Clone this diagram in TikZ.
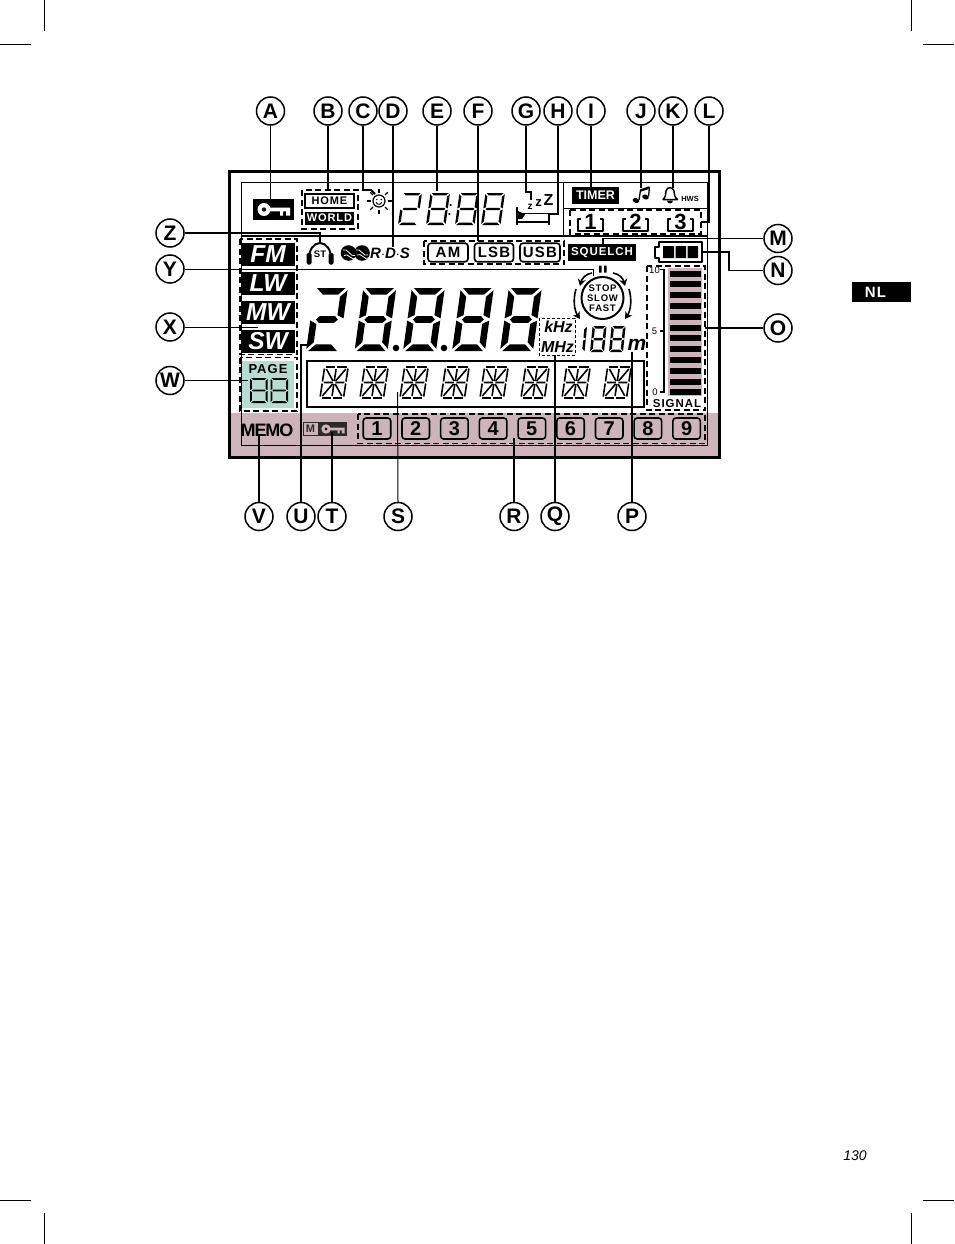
\documentclass[tikz,border=0pt]{standalone}
\usepackage{fontspec}
\usetikzlibrary{arrows.meta}
\setmainfont{Liberation Sans}
\newfontfamily\wide[LetterSpace=8]{Liberation Sans}
\newfontfamily\tight[LetterSpace=-6]{Liberation Sans}
\definecolor{lcdpink}{HTML}{CDB4BB}
\definecolor{lcdteal}{HTML}{B7DDD3}
\definecolor{lcddark}{HTML}{2B2B2B}
\tikzset{
 letter/.style={circle,draw,line width=1.5pt,minimum size=28pt,inner sep=0pt,fill=white,font=\fontsize{21}{21}\selectfont\bfseries},
 conn/.style={line width=1.8pt},
 thinconn/.style={line width=1pt},
 crop/.style={line width=.6pt},
 dbox/.style={draw,line width=1.5pt,dash pattern=on 6pt off 3.5pt},
 txt/.style={inner sep=0pt,font=\fontsize{#1}{#1}\selectfont\bfseries},
 wtxt/.style={inner sep=0pt,text=white,font=\fontsize{#1}{#1}\selectfont\bfseries},
 itxt/.style={inner sep=0pt,font=\fontsize{#1}{#1}\selectfont\bfseries\itshape},
 bandtxt/.style={inner sep=0pt,text=white,font=\fontsize{24.5}{24.5}\selectfont\bfseries\itshape},
 sptxt/.style={inner sep=0pt,font=\fontsize{#1}{#1}\selectfont\bfseries\wide},
 spwtxt/.style={inner sep=0pt,text=white,font=\fontsize{#1}{#1}\selectfont\bfseries\wide},
 roundbtn/.style={draw,line width=1.6pt,rounded corners=3pt,inner sep=0pt},
 bandbox/.style={fill=black,inner sep=0pt,minimum width=53pt,minimum height=23pt},
 dialarrow/.style={line width=1.6pt,-{Stealth[length=7pt,width=8pt]}}
}
% seven segment pieces, local y pointing up
\newcommand\segA{\fill (\dG,\dH)--(\dW-\dG,\dH)--(\dW-\dG-\dT,\dH-\dT)--(\dG+\dT,\dH-\dT)--cycle;}
\newcommand\segD{\fill (\dG,0)--(\dW-\dG,0)--(\dW-\dG-\dT,\dT)--(\dG+\dT,\dT)--cycle;}
\newcommand\segB{\fill (\dW,\dH-\dG)--(\dW,\dH/2+\dG/2)--(\dW-\dT,\dH/2+\dG/2+\dT/2)--(\dW-\dT,\dH-\dG-\dT)--cycle;}
\newcommand\segC{\fill (\dW,\dG)--(\dW,\dH/2-\dG/2)--(\dW-\dT,\dH/2-\dG/2-\dT/2)--(\dW-\dT,\dG+\dT)--cycle;}
\newcommand\segE{\fill (0,\dG)--(0,\dH/2-\dG/2)--(\dT,\dH/2-\dG/2-\dT/2)--(\dT,\dG+\dT)--cycle;}
\newcommand\segF{\fill (0,\dH-\dG)--(0,\dH/2+\dG/2)--(\dT,\dH/2+\dG/2+\dT/2)--(\dT,\dH-\dG-\dT)--cycle;}
\newcommand\segG{\fill (\dG+\dT/2,\dH/2)--(\dG+\dT,\dH/2+\dT/2)--(\dW-\dG-\dT,\dH/2+\dT/2)--(\dW-\dG-\dT/2,\dH/2)--(\dW-\dG-\dT,\dH/2-\dT/2)--(\dG+\dT,\dH/2-\dT/2)--cycle;}
\newcommand\eightsegs{\segA\segB\segC\segD\segE\segF\segG}
\newcommand\twosegs{\segA\segB\segG\segE\segD}
\newcommand\onesegs{\segB\segC}
% x, y(bottom), w, h, slant, thickness, gap, segments
\newcommand\sevenseg[8]{\begin{scope}[shift={(#1,#2)},x=1pt,y=1pt,cm={1,0,#5,1,(0,0)}]
 \def\dW{#3}\def\dH{#4}\def\dT{#6}\def\dG{#7}#8\end{scope}}
% alphanumeric digit
\newcommand\alphaseg[2]{\begin{scope}[shift={(#1,#2)},x=1pt,y=1pt,cm={1,0,.15,1,(0,0)},line width=1.6pt]
 \draw (1.5,31)--(10.8,31) (12.7,31)--(22,31) (1.5,0)--(10.8,0) (12.7,0)--(22,0);
 \draw (0,29.5)--(0,16.5) (0,14.5)--(0,1.5) (23.5,29.5)--(23.5,16.5) (23.5,14.5)--(23.5,1.5);
 \draw (1.5,15.5)--(10.5,15.5) (13,15.5)--(22,15.5) (11.75,29)--(11.75,17) (11.75,14)--(11.75,2);
 \draw (2,29)--(10.5,17) (21.5,29)--(13,17) (2,2)--(10.5,14) (21.5,2)--(13,14);
 \end{scope}}
\newcommand\keyglyph[4]{\begin{scope}[shift={(#1,#2)},scale=#3]
 \fill[#4] (0,0) circle (6.5);
 \fill[black!90] (0,0) circle (2.2);
 \fill[#4] (5,-1.8) rectangle (26,1.8) (16,1.8) rectangle (19,6) (22,1.8) rectangle (26,6);
 \end{scope}}
\newcommand\keybracket[1]{\draw[line width=2pt,line join=round] (#1+3,218.5)--(#1,218.5)--(#1,231)--(#1+25,231)--(#1+25,218.5)--(#1+22,218.5);}
\begin{document}
\begin{tikzpicture}[x=1pt,y=-1pt]
\useasboundingbox (0,0) rectangle (954,1244);
\fill[white] (0,0) rectangle (954,1244);
% crop marks
\coordinate (c1) at (0,44);\coordinate (c2) at (31,44);\coordinate (c3) at (44,0);\coordinate (c4) at (44,31);
\coordinate (c5) at (923,44);\coordinate (c6) at (954,44);\coordinate (c7) at (911,0);\coordinate (c8) at (911,31);
\coordinate (c9) at (0,1200);\coordinate (c10) at (31,1200);\coordinate (c11) at (44,1213);\coordinate (c12) at (44,1244);
\coordinate (c13) at (923,1200);\coordinate (c14) at (954,1200);\coordinate (c15) at (911,1213);\coordinate (c16) at (911,1244);
\draw[crop] (c1)--(c2) (c3)--(c4) (c5)--(c6) (c7)--(c8) (c9)--(c10) (c11)--(c12) (c13)--(c14) (c15)--(c16);
% side tab and page number
\fill (852,282) rectangle (911,302);
\node[text=white,inner sep=0pt,font=\fontsize{15}{15}\selectfont\bfseries\wide] (tab) at (875.5,292) {NL};
\node[inner sep=0pt,font=\fontsize{14}{14}\selectfont\itshape] (pageno) at (855,1156) {130};
% panel
\fill[lcdpink] (229,413) rectangle (719,457);
\fill[lcdteal] (242,361) rectangle (294,408);
\draw[line width=1pt] (241.5,182.5) rectangle (707,445);
\draw[line width=1pt] (563,182.5)--(563,236) (563,208)--(707,208);
\draw[line width=1.5pt] (241.5,236)--(707,236);
\draw[line width=3pt] (229,171) rectangle (719,457.5);
% top row
\fill (253,199) rectangle (294,220);
\keyglyph{264}{209.5}{1}{white}
\draw[dbox] (302,190) rectangle (358,229);
\node[draw,line width=1.2pt,minimum width=49pt,minimum height=14pt,inner sep=0pt,txt=11] (home) at (329.5,201) {\wide HOME};
\node[fill=black,minimum width=49pt,minimum height=13pt,inner sep=0pt,wtxt=11] (world) at (329.5,218) {\wide WORLD};
% sun
\draw[line width=1.2pt] (379,201) circle (6);
\fill (376.8,199.5) circle (.8) (381.2,199.5) circle (.8);
\draw[line width=.9pt] (376,202.3) arc (160:20:3.2);
\foreach \a in {0,45,...,315} \draw[line width=1.1pt] (379,201)++(\a:8.5)--++(\a:4);
% clock digits
\sevenseg{398}{225}{19.5}{32}{.14}{2.4}{1.2}{\twosegs}
\sevenseg{426}{225}{19.5}{32}{.14}{2.4}{1.2}{\eightsegs}
\sevenseg{455}{225}{19.5}{32}{.14}{2.4}{1.2}{\eightsegs}
\sevenseg{481}{225}{19.5}{32}{.14}{2.4}{1.2}{\eightsegs}
\fill (450.6,205) circle (1.2) (449.4,214) circle (1.2);
% bed
\node[txt=10] (z1) at (530,207) {z};
\node[txt=13] (z2) at (538.5,203.5) {z};
\node[txt=16] (z3) at (548.5,199.5) {Z};
\draw[line width=1.5pt] (517,207)--(517,225) (549,213)--(549,225) (517,213.5)--(549,213.5) (517,222)--(549,222);
\fill (518,211)--(525,214.5)--(522,219)--(518,219)--cycle;
% timer, note, bell
\node[fill=black,minimum width=47pt,minimum height=17pt,inner sep=0pt,wtxt=12.5] (timer) at (595.5,195.5) {TIMER};
\fill[rotate around={-20:(636,200.5)}] (636,200.5) ellipse (3.4 and 2.4);
\fill[rotate around={-20:(645.5,197)}] (645.5,197) ellipse (3.4 and 2.4);
\draw[line width=1.3pt] (639,200)--(640.5,190) (648.5,196.5)--(649.5,187);
\draw[line width=2.5pt] (640.5,190.5)--(649.5,187.5);
\draw[line width=1.5pt,line join=round] (663,199.5)..controls (666,197) and (665.5,194) ..(666,191)..controls (667,186.5) and (673,186.5) ..(674,191)..controls (674.5,194) and (674,197) ..(677.5,199.5)--cycle;
\fill (667,200.5) arc (180:0:3)--cycle;
\node[txt=7.5] (hws) at (690,199) {HWS};
% 1 2 3
\draw[dbox] (570,210) rectangle (701,234);
\keybracket{578}\keybracket{623}\keybracket{668}
\node[txt=22] (p1) at (590.5,222) {1};
\node[txt=22] (p2) at (635.5,222) {2};
\node[txt=22] (p3) at (680.5,222) {3};
% second row
\draw[dbox] (240,239) rectangle (297,354.5);
\draw[dbox] (240,357.5) rectangle (297,411);
\node[bandbox,bandtxt] (fm) at (268,254.5) {FM};
\node[bandbox,bandtxt] (lw) at (268,283.5) {LW};
\node[bandbox,bandtxt] (mw) at (268,312.5) {MW};
\node[bandbox,bandtxt] (sw) at (268,341) {SW};
% headphones
\draw[line width=2pt] (309,258) arc (180:360:11 and 15);
\fill[rounded corners=1.5pt] (306.5,253) rectangle (311.5,264.5) (328.5,253) rectangle (333.5,264.5);
\node[txt=9.5] (st) at (320,254.5) {ST};
% RDS
\fill (348.5,253) circle (7.8) (362,253) circle (7.8);
\draw[white,line width=.8pt] (343,250)..controls (347,247) and (351,258) ..(355,255.5) (344,255.5)..controls (348,252) and (352,262) ..(356,258) (356,250)..controls (360,247) and (364,258) ..(368,255) (357,255)..controls (361,252) and (365,261) ..(368,258);
\node[itxt=15] (rds) at (390,253) {R$\cdot$D$\cdot$S};
\draw[dbox] (424,241) rectangle (564,264);
\node[roundbtn,minimum width=40pt,minimum height=18.5pt,sptxt=15] (am) at (448,252.5) {AM};
\node[roundbtn,minimum width=39pt,minimum height=18.5pt,sptxt=15] (lsb) at (494,252.5) {LSB};
\node[roundbtn,minimum width=40pt,minimum height=18.5pt,sptxt=15] (usb) at (540,252.5) {USB};
\node[fill=black,minimum width=68pt,minimum height=17pt,inner sep=0pt,spwtxt=11.5] (squelch) at (602,252.5) {SQUELCH};
% battery
\draw[line width=2pt,line join=round] (659,241.5)--(701.5,241.5)--(701.5,262)--(659,262)--(659,258)--(655,258)--(655,247)--(659,247)--cycle;
\fill (663,246) rectangle (674,258) (675.5,246) rectangle (686,258) (687.5,246) rectangle (698,258);
% big digits
\sevenseg{306}{351}{33}{63}{.14}{6.6}{2.2}{\twosegs}
\sevenseg{354.5}{351}{33}{63}{.14}{6.6}{2.2}{\eightsegs}
\sevenseg{403}{351}{33}{63}{.14}{6.6}{2.2}{\eightsegs}
\sevenseg{452}{351}{33}{63}{.14}{6.6}{2.2}{\eightsegs}
\sevenseg{500}{351}{33}{63}{.14}{6.6}{2.2}{\eightsegs}
\fill (396,348) circle (3.3) (444,348) circle (3.3);
% stop slow fast
\draw[line width=2pt] (602.5,298) circle (21);
\fill (599,265.5) rectangle (601.5,272.5) (604,265.5) rectangle (606.5,272.5);
\node[sptxt=9.5] (stop) at (602.5,288) {STOP};
\node[sptxt=9.5] (slow) at (602.5,298) {SLOW};
\node[sptxt=9.5] (fast) at (602.5,308.5) {FAST};
\draw[dialarrow] (592,273)..controls (586,274) and (582,278) ..(580,286);
\draw[dialarrow] (613,273)..controls (619,274) and (623,278) ..(625,286);
\draw[dialarrow] (576,289)..controls (573,299) and (574,310) ..(580,319);
\draw[dialarrow] (629,289)..controls (632,299) and (631,310) ..(625,319);
% units
\draw[line width=1pt,dash pattern=on 3pt off 2pt] (539,318) rectangle (575,355);
\node[itxt=16] (khz) at (558.5,326.5) {kHz};
\node[itxt=16] (mhz) at (557.5,347) {MHz};
\sevenseg{569.5}{352}{15}{26}{.1}{2.5}{.8}{\onesegs}
\sevenseg{590}{352}{14}{26}{.1}{2.5}{.8}{\eightsegs}
\sevenseg{609}{352}{14}{26}{.1}{2.5}{.8}{\eightsegs}
\node[itxt=21] (munit) at (637,345) {m};
% signal
\draw[dbox] (647,266) rectangle (705,410);
\fill[lcdpink] (668,268) rectangle (702,396);
\foreach \i in {0,...,11} \fill (670,270.5+\i*10.8) rectangle (700.5,276.5+\i*10.8);
\draw[line width=1.1pt] (660,269.5)--(664,269.5)--(664,392)--(660,392) (660,331)--(664,331);
\node[inner sep=0pt,font=\fontsize{9.5}{9.5}\selectfont] (s10) at (654.5,270) {10};
\node[inner sep=0pt,font=\fontsize{9.5}{9.5}\selectfont] (s5) at (654.5,331) {5};
\node[inner sep=0pt,font=\fontsize{9.5}{9.5}\selectfont] (s0) at (655,392) {0};
\node[sptxt=11.5] (signal) at (677,404) {SIGNAL};
% page
\node[sptxt=13] (pagelbl) at (268,369) {PAGE};
\sevenseg{250}{403}{17.5}{25}{0}{1.9}{1}{\eightsegs}
\sevenseg{270.5}{403}{17.5}{25}{0}{1.9}{1}{\eightsegs}
% alphanumeric display
\draw[line width=2pt] (307,361) rectangle (644,406.5);
\foreach \x in {320,360,400,441,480,521,562,603} {\alphaseg{\x}{398}}
% memory row
\node[inner sep=0pt,font=\fontsize{18}{18}\selectfont\bfseries\tight] (memo) at (267,430) {MEMO};
\fill[lcddark] (303,422) rectangle (347,436);
\fill[lcdpink] (304,423) rectangle (317.5,435);
\node[txt=11,text=lcddark] (mlbl) at (310.5,429) {M};
\keyglyph{326}{429}{.72}{lcdpink}
\draw[dbox] (358,414) rectangle (705,443.5);
\foreach \n/\x in {1/377,2/415.7,3/454.4,4/493.1,5/531.8,6/570.5,7/609.2,8/647.9,9/686.6}
 \node[roundbtn,minimum width=27.5pt,minimum height=21pt,txt=20] (mem\n) at (\x,428.5) {\n};
% circled letters
\foreach \n/\x in {A/270.5,B/328,C/363,D/393,E/437,F/478,G/526,H/558,I/591,J/641,K/673,L/709}
 \node[letter] (\n) at (\x,111) {\n};
\foreach \n/\x in {V/259,U/301,T/332,S/398,R/514,Q/555,P/632}
 \node[letter] (\n) at (\x,516.5) {\n};
\node[letter] (Z) at (170,233) {Z};
\node[letter] (Y) at (170,269) {Y};
\node[letter] (X) at (170,327) {X};
\node[letter] (W) at (170,380.5) {W};
\node[letter] (M) at (778,238.5) {M};
\node[letter] (N) at (778,270.5) {N};
\node[letter] (O) at (778,328) {O};
% connector ends
\coordinate (eA) at (270.5,199);\coordinate (eB) at (328,190);\coordinate (eC) at (375,194);\coordinate (eD) at (393,247);
\coordinate (eE) at (437,191);\coordinate (eF) at (478,241);\coordinate (eG) at (531,200);\coordinate (eH) at (550,214);
\coordinate (eI) at (591,187);\coordinate (eJ) at (641,188);\coordinate (eK) at (673,188);\coordinate (eL) at (701,222);
\coordinate (eM) at (603,244);\coordinate (eN) at (702,252);\coordinate (eO) at (705,328);
\coordinate (eP) at (632,352);\coordinate (eQ) at (555,355);\coordinate (eR) at (514,438);\coordinate (eS) at (397.5,392);
\coordinate (eT) at (332,432);\coordinate (eU) at (307,345);\coordinate (eV) at (259,436);
\coordinate (eW) at (248,380.5);\coordinate (eX) at (258,327);\coordinate (eY) at (593,276);\coordinate (eZ) at (320,243);
\draw[thinconn] (A.south)--(eA);
\draw[conn] (B.south)--(eB);
\draw[conn] (C.south)--(363,190)--(371,190)--(eC);
\draw[conn] (D.south)--(eD);
\draw[conn] (E.south)--(eE);
\draw[conn] (F.south)--(eF);
\draw[conn] (G.south)--(526,192)--(531,192)--(eG);
\draw[conn] (H.south)--(558,214)--(eH);
\draw[conn] (I.south)--(eI);
\draw[conn] (J.south)--(eJ);
\draw[conn] (K.south)--(eK);
\draw[conn] (L.south)--(709,222)--(eL);
\draw[line width=1.4pt] (M.west)--(eM|-M.west)--(eM);
\draw[line width=1.4pt] (N.west)--(729,270.5)--(729,252)--(eN);
\draw[line width=1.2pt] (O.west)--(eO);
\draw[conn] (P.north)--(eP);
\draw[conn] (Q.north)--(eQ);
\draw[conn] (R.north)--(eR);
\draw[thinconn] (S.north)--(eS);
\draw[conn] (T.north)--(eT);
\draw[conn] (U.north)--(301,345)--(eU);
\draw[conn] (V.north)--(eV);
\draw[conn] (W.east)--(eW);
\draw[thinconn] (X.east)--(eX);
\draw[thinconn] (Y.east)--(593,269)--(eY);
\draw[conn] (Z.east)--(320,233)--(eZ);
\end{tikzpicture}
\end{document}
